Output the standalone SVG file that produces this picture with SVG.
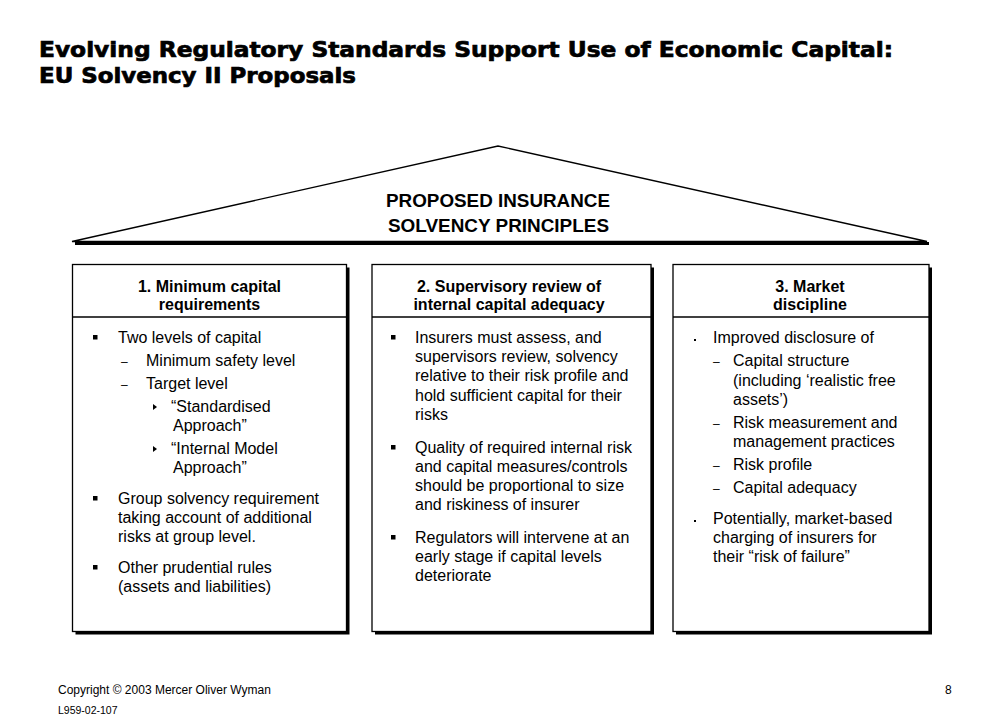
<svg xmlns="http://www.w3.org/2000/svg" width="1008" height="720" viewBox="0 0 1008 720">
<style>
.title{font-family:"DejaVu Sans","Liberation Sans",sans-serif;font-weight:bold;font-size:21px;fill:#000;stroke:#000;stroke-width:0.7}
.roof{font-family:"Liberation Sans",Arial,sans-serif;font-weight:bold;font-size:18px;fill:#000}
.hdr{font-family:"Liberation Sans",Arial,sans-serif;font-weight:bold;font-size:16px;fill:#000;text-anchor:middle}
.body{font-family:"Liberation Sans",Arial,sans-serif;font-size:16px;fill:#000}
.dash{font-family:"Liberation Sans",Arial,sans-serif;font-size:12px;fill:#000}
.foot{font-family:"Liberation Sans",Arial,sans-serif;font-size:12px;fill:#000}
.box{fill:#fff;stroke:#000;stroke-width:1.3}
.shadow{fill:#000}
.div{stroke:#000;stroke-width:1.3}
</style>
<defs>
<rect id="sq" width="4.5" height="4.5" fill="#000"/>
<path id="tri" d="M0,0 L4,3 L0,6 Z" fill="#000"/>
<rect id="dot" width="2" height="2" fill="#000"/>
</defs>
<rect width="1008" height="720" fill="#fff"/>

<g id="title">
<text class="title" x="39" y="57" textLength="854" lengthAdjust="spacingAndGlyphs">Evolving Regulatory Standards Support Use of Economic Capital:</text>
<text class="title" x="39" y="83" textLength="317" lengthAdjust="spacingAndGlyphs">EU Solvency II Proposals</text>
</g>

<g id="roof">
<line x1="75" y1="243.5" x2="929" y2="243.5" stroke="#000" stroke-width="3"/>
<polygon points="72,241.5 498,146 927,241.5" fill="#fff" stroke="#000" stroke-width="1.3" stroke-linejoin="miter"/>
<text class="roof" x="386" y="207" textLength="224" lengthAdjust="spacingAndGlyphs">PROPOSED INSURANCE</text>
<text class="roof" x="388" y="232" textLength="221" lengthAdjust="spacingAndGlyphs">SOLVENCY PRINCIPLES</text>
</g>

<g id="box1">
<rect class="shadow" x="75.5" y="267.5" width="274" height="367"/>
<rect class="box" x="72.5" y="264.5" width="274" height="367"/>
<line class="div" x1="72.5" y1="317" x2="346.5" y2="317"/>
<text class="hdr" x="209.5" y="292">1. Minimum capital</text>
<text class="hdr" x="209.5" y="310">requirements</text>
<use href="#sq" x="93" y="335"/>
<text class="body" x="118" y="343">Two levels of capital</text>
<text class="dash" x="121" y="366">–</text>
<text class="body" x="146" y="366">Minimum safety level</text>
<text class="dash" x="121" y="389">–</text>
<text class="body" x="146" y="389">Target level</text>
<use href="#tri" x="153" y="404"/>
<text class="body" x="171" y="412">“Standardised</text>
<text class="body" x="173" y="431">Approach”</text>
<use href="#tri" x="153" y="446"/>
<text class="body" x="171" y="454">“Internal Model</text>
<text class="body" x="173" y="473">Approach”</text>
<use href="#sq" x="93" y="496"/>
<text class="body" x="118" y="504">Group solvency requirement</text>
<text class="body" x="118" y="523">taking account of additional</text>
<text class="body" x="118" y="542">risks at group level.</text>
<use href="#sq" x="93" y="565"/>
<text class="body" x="118" y="573">Other prudential rules</text>
<text class="body" x="118" y="592">(assets and liabilities)</text>
</g>

<g id="box2">
<rect class="shadow" x="375" y="267.5" width="279" height="367"/>
<rect class="box" x="372" y="264.5" width="279" height="367"/>
<line class="div" x1="372" y1="317" x2="651" y2="317"/>
<text class="hdr" x="509" y="292">2. Supervisory review of</text>
<text class="hdr" x="509" y="310">internal capital adequacy</text>
<use href="#sq" x="391" y="335"/>
<text class="body" x="415" y="343">Insurers must assess, and</text>
<text class="body" x="415" y="362">supervisors review, solvency</text>
<text class="body" x="415" y="381">relative to their risk profile and</text>
<text class="body" x="415" y="401">hold sufficient capital for their</text>
<text class="body" x="415" y="420">risks</text>
<use href="#sq" x="391" y="445"/>
<text class="body" x="415" y="453">Quality of required internal risk</text>
<text class="body" x="415" y="472">and capital measures/controls</text>
<text class="body" x="415" y="491">should be proportional to size</text>
<text class="body" x="415" y="510">and riskiness of insurer</text>
<use href="#sq" x="391" y="535"/>
<text class="body" x="415" y="543">Regulators will intervene at an</text>
<text class="body" x="415" y="562">early stage if capital levels</text>
<text class="body" x="415" y="581">deteriorate</text>
</g>

<g id="box3">
<rect class="shadow" x="676" y="267.5" width="256" height="367"/>
<rect class="box" x="673" y="264.5" width="256" height="367"/>
<line class="div" x1="673" y1="317" x2="929" y2="317"/>
<text class="hdr" x="810" y="292">3. Market</text>
<text class="hdr" x="810" y="310">discipline</text>
<use href="#dot" x="694" y="339"/>
<text class="body" x="713" y="343">Improved disclosure of</text>
<text class="dash" x="713" y="366">–</text>
<text class="body" x="733" y="366">Capital structure</text>
<text class="body" x="733" y="386">(including ‘realistic free</text>
<text class="body" x="733" y="405">assets’)</text>
<text class="dash" x="713" y="428">–</text>
<text class="body" x="733" y="428">Risk measurement and</text>
<text class="body" x="733" y="447">management practices</text>
<text class="dash" x="713" y="470">–</text>
<text class="body" x="733" y="470">Risk profile</text>
<text class="dash" x="713" y="493">–</text>
<text class="body" x="733" y="493">Capital adequacy</text>
<use href="#dot" x="694" y="520"/>
<text class="body" x="713" y="524">Potentially, market-based</text>
<text class="body" x="713" y="543">charging of insurers for</text>
<text class="body" x="713" y="562">their “risk of failure”</text>
</g>

<g id="footer">
<text class="foot" x="58" y="694">Copyright © 2003 Mercer Oliver Wyman</text>
<text class="foot" x="58" y="714" style="font-size:10.5px">L959-02-107</text>
<text class="foot" x="945" y="694">8</text>
</g>
</svg>
